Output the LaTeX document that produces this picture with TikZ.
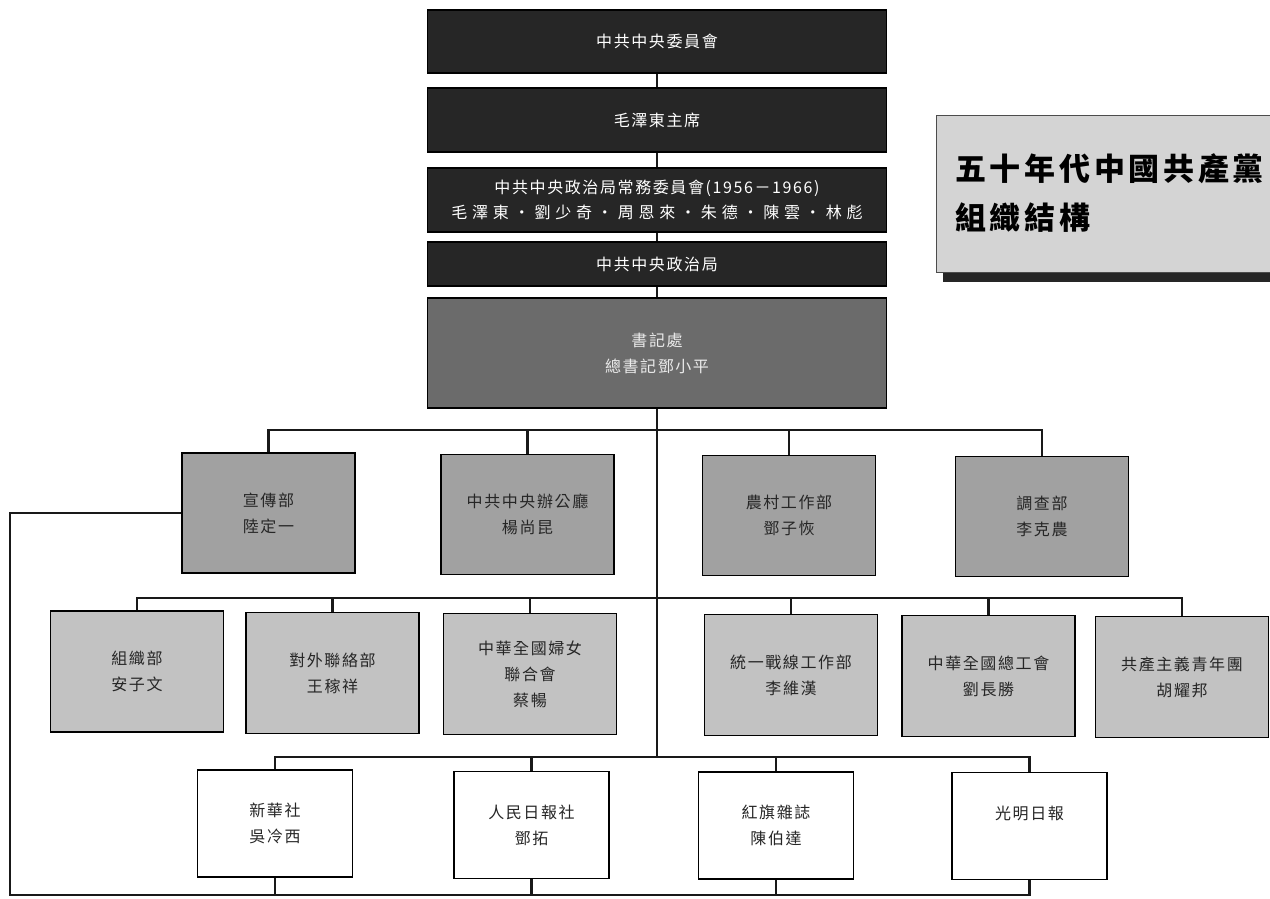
\documentclass[tikz,border=0pt]{standalone}
\usepackage{fontspec}
\newfontfamily\cjk[LetterSpace=10]{Noto Sans CJK TC}

\begin{document}
\begin{tikzpicture}[x=1pt,y=-1pt,
	box/.style={draw=black, line width=1.2pt, align=center, inner sep=0pt, font=\cjk\fontsize{16}{26}\selectfont},
	topbox/.style={box, fill=black!85, text=white, minimum width=459pt},
	midbox/.style={box, fill=black!58, text=black!8, minimum width=459pt, minimum height=110pt},
	deptbox/.style={box, fill=black!37, text=black!85, minimum width=173pt, minimum height=120pt},
	orgbox/.style={box, fill=black!24, text=black!85, minimum width=173pt, minimum height=121pt},
	pressbox/.style={box, fill=white, text=black!85, minimum width=155pt, minimum height=107pt},
	link/.style={line width=2.2pt, black!90}]
				\useasboundingbox (0,0) rectangle (1270,899);
				
				% top of the party
				\node[topbox, minimum height=63pt] (cc) at (657,41.5) {中共中央委員會};
				\node[topbox, minimum height=64pt] (mao) at (657,120) {毛澤東主席};
				\node[topbox, minimum height=64pt, font=\cjk\fontsize{16}{25}\selectfont] (psc) at (657,200) {中共中央政治局常務委員會(1956－1966)\\{\addfontfeature{LetterSpace=30}毛澤東・劉少奇・周恩來・朱德・陳雲・林彪}};
				\node[topbox, minimum height=44pt] (pb) at (657,264) {中共中央政治局};
				\node[midbox] (sec) at (657,353) {書記處\\總書記鄧小平};
				
				\draw[link] (cc.south) -- (mao.north);
				\draw[link] (mao.south) -- (psc.north);
				\draw[link] (psc.south) -- (pb.north);
				\draw[link] (pb.south) -- (sec.north);
				
				% title
				\fill[black!85] (943,272) rectangle (1270,282);
				\node[draw=black!70, line width=1pt, fill=black!17, minimum width=334pt, minimum height=157pt, inner sep=0pt] (ttl) at (1103,193.5) {};
				\node[anchor=west, align=left, inner sep=0pt, font=\cjk\bfseries\fontsize{31}{49}\selectfont\addfontfeature{LetterSpace=12}] (ttltxt) at (955,193.5) {五十年代中國共產黨\\組織結構};
				
				% departments
				\node[deptbox] (xcb) at (268.5,513) {宣傳部\\陸定一};
				\node[deptbox] (bgt) at (527.5,514.5) {中共中央辦公廳\\楊尚昆};
				\node[deptbox] (ncb) at (789,515.5) {農村工作部\\鄧子恢};
				\node[deptbox] (dcb) at (1042,516.5) {調查部\\李克農};
				
				\coordinate (j2) at (657,430);
				\draw[link] (xcb.north) |- (j2) -| (dcb.north);
				\draw[link] (bgt.north) |- (j2);
				\draw[link] (ncb.north) |- (j2);
				
				% organisations
				\node[orgbox] (zzb) at (137,671.5) {組織部\\安子文};
				\node[orgbox] (dwlb) at (332.5,673) {對外聯絡部\\王稼祥};
				\node[orgbox] (fl) at (530,674) {中華全國婦女\\聯合會\\蔡暢};
				\node[orgbox] (tzb) at (791,675) {統一戰線工作部\\李維漢};
				\node[orgbox] (zgh) at (988.5,676) {中華全國總工會\\劉長勝};
				\node[orgbox] (gqt) at (1182,677) {共產主義青年團\\胡耀邦};
				
				\coordinate (j3) at (657,598);
				\draw[link] (zzb.north) |- (j3) -| (gqt.north);
				\draw[link] (dwlb.north) |- (j3);
				\draw[link] (fl.north) |- (j3);
				\draw[link] (tzb.north) |- (j3);
				\draw[link] (zgh.north) |- (j3);
				
				% press
				\node[pressbox] (xhs) at (275,823.5) {新華社\\吳冷西};
				\node[pressbox] (rmrb) at (531.5,825) {人民日報社\\鄧拓};
				\node[pressbox] (hq) at (776,825.5) {紅旗雜誌\\陳伯達};
				\node[pressbox] (gmrb) at (1029.5,826) {光明日報\\\mbox{}};
				
				\coordinate (j4) at (657,757);
				\draw[link] (sec.south) -- (j4);
				\draw[link] (xhs.north) |- (j4) -| (gmrb.north);
				\draw[link] (rmrb.north) |- (j4);
				\draw[link] (hq.north) |- (j4);
				
				% propaganda line round the press
				\coordinate (b0) at (10,895);
				\draw[link] (xcb.west) -| (b0) -| (gmrb.south);
				\draw[link] (xhs.south) -- (xhs.south |- b0);
				\draw[link] (rmrb.south) -- (rmrb.south |- b0);
				\draw[link] (hq.south) -- (hq.south |- b0);
			\end{tikzpicture}
\end{document}
